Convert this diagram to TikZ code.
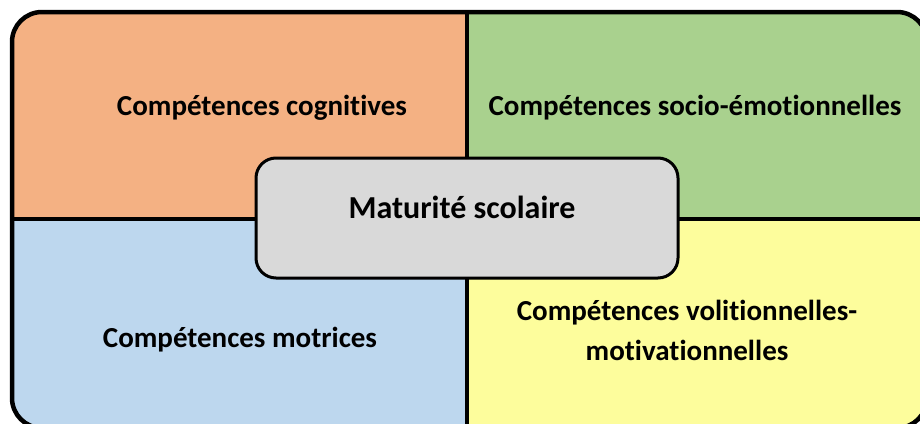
\documentclass[tikz,border=0pt]{standalone}
\usepackage{fontspec}
\setmainfont{Carlito}[Ligatures=NoCommon]
\definecolor{cogni}{HTML}{F4B183}
\definecolor{socio}{HTML}{A9D18E}
\definecolor{motri}{HTML}{BDD7EE}
\definecolor{voli}{HTML}{FDFD9C}
\definecolor{matu}{HTML}{D9D9D9}
\begin{document}
\begin{tikzpicture}[x=1pt, y=-1pt,
    lbl/.style={font=\bfseries\fontsize{29}{40}\selectfont, align=center, inner sep=0pt}]
\useasboundingbox (0,0) rectangle (920,423);
\clip (0,0) rectangle (920,423);
% quadrants
\begin{scope}
\clip [rounded corners=30] (12,12) rectangle (927,428);
\fill [cogni] (12,12) rectangle (467,219);
\fill [socio] (467,12) rectangle (927,219);
\fill [motri] (12,219) rectangle (467,428);
\fill [voli] (467,219) rectangle (927,428);
\end{scope}
\draw [line width=4] (467,12) -- (467,428);
\draw [line width=4] (12,219) -- (927,219);
\draw [line width=4.5, rounded corners=30] (12,12) rectangle (927,428);
% centre
\draw [fill=matu, line width=3, rounded corners=20] (256,158) rectangle (678,278);
\node [lbl, font=\bfseries\fontsize{32}{40}\selectfont] (matu) at (462,207) {Maturité scolaire};
\node [lbl] (cogni) at (262,108) {Compétences cognitives};
\node [lbl] (socio) at (695,108) {Compétences socio-émotionnelles};
\node [lbl] (motri) at (240,340) {Compétences motrices};
\node [lbl] (voli) at (687,330) {Compétences volitionnelles-\\motivationnelles};
\end{tikzpicture}
\end{document}
